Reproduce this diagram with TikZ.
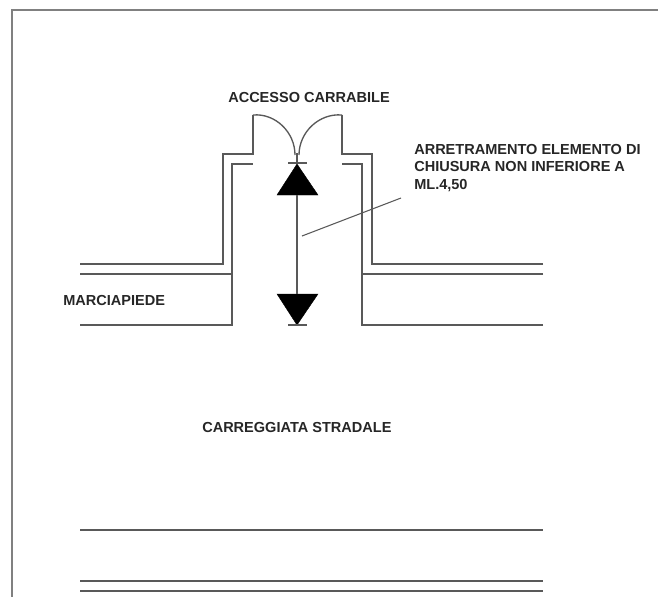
\documentclass[tikz,border=0pt]{standalone}
\usepackage{fontspec}
\setmainfont{Liberation Sans}
\usetikzlibrary{calc}
\tikzset{
	wall/.style={draw=black!65, line width=1pt},
	label/.style={font=\bfseries\fontsize{10.9}{13.1}\selectfont, text=black!85, inner sep=0pt, align=left},
	head/.style={fill=black, draw=black, line width=0.3pt}
}

\begin{document}
\begin{tikzpicture}[x=0.75pt, y=-0.75pt]
		\useasboundingbox (0, 0) rectangle (658, 597);
		
		% sheet border
		\coordinate (f0) at (12, 597);
		\coordinate (f1) at (12, 10);
		\coordinate (f2) at (658, 10);
		\draw[wall, draw=black!50, line width=1.1pt] (f0) -- (f1) -- (f2);
		
		\node[label, anchor=west] (access) at (228, 97) {ACCESSO CARRABILE};
		\node[label, anchor=west] (setback) at (414, 168) {ARRETRAMENTO ELEMENTO DI\\CHIUSURA NON INFERIORE A\\ML.4,50};
		\node[label, anchor=west] (pavement) at (63, 300) {MARCIAPIEDE};
		\node[label, anchor=west] (road) at (202, 427) {CARREGGIATA STRADALE};
		
		% left side of the entrance
		\draw[wall] (80, 264) -- (223, 264) -- (223, 154) -- (253, 154) -- (253, 115);
		\draw[wall] (80, 274) -- (232, 274);
		\draw[wall] (80, 325) -- (232, 325) -- (232, 164) -- (253, 164);
		
		% right side of the entrance
		\draw[wall] (543, 264) -- (372, 264) -- (372, 154) -- (342, 154) -- (342, 115);
		\draw[wall] (543, 274) -- (362, 274);
		\draw[wall] (543, 325) -- (362, 325) -- (362, 164) -- (342, 164);
		
		% gate leaves
		\draw[wall] (253, 115) to [in=90, out=5] (295, 155);
		\draw[wall] (342, 115) to [in=90, out=175] (299, 155);
		\draw[wall] (297, 153) -- (297, 163);
		\draw[wall] (288, 163) -- (307, 163);
		
		% road lines
		\draw[wall] (80, 530) -- (543, 530);
		\draw[wall] (80, 581) -- (543, 581);
		\draw[wall] (80, 591) -- (543, 591);
		
		% dimension with its two heads
		\coordinate (up) at (297, 195);
		\coordinate (down) at (297, 294);
		\draw[head] (297, 164) -- (318, 195) -- (277, 195) -- cycle;
		\draw[head] (297, 325) -- (318, 294) -- (277, 294) -- cycle;
		\draw[wall] (up) -- (down);
		\draw[wall] (288, 325) -- (307, 325);
		
		\coordinate (leader) at (302, 236);
		\coordinate (leaderend) at (401, 198);
		\draw[wall, line width=0.8pt] (leader) -- (leaderend);
	\end{tikzpicture}
\end{document}
